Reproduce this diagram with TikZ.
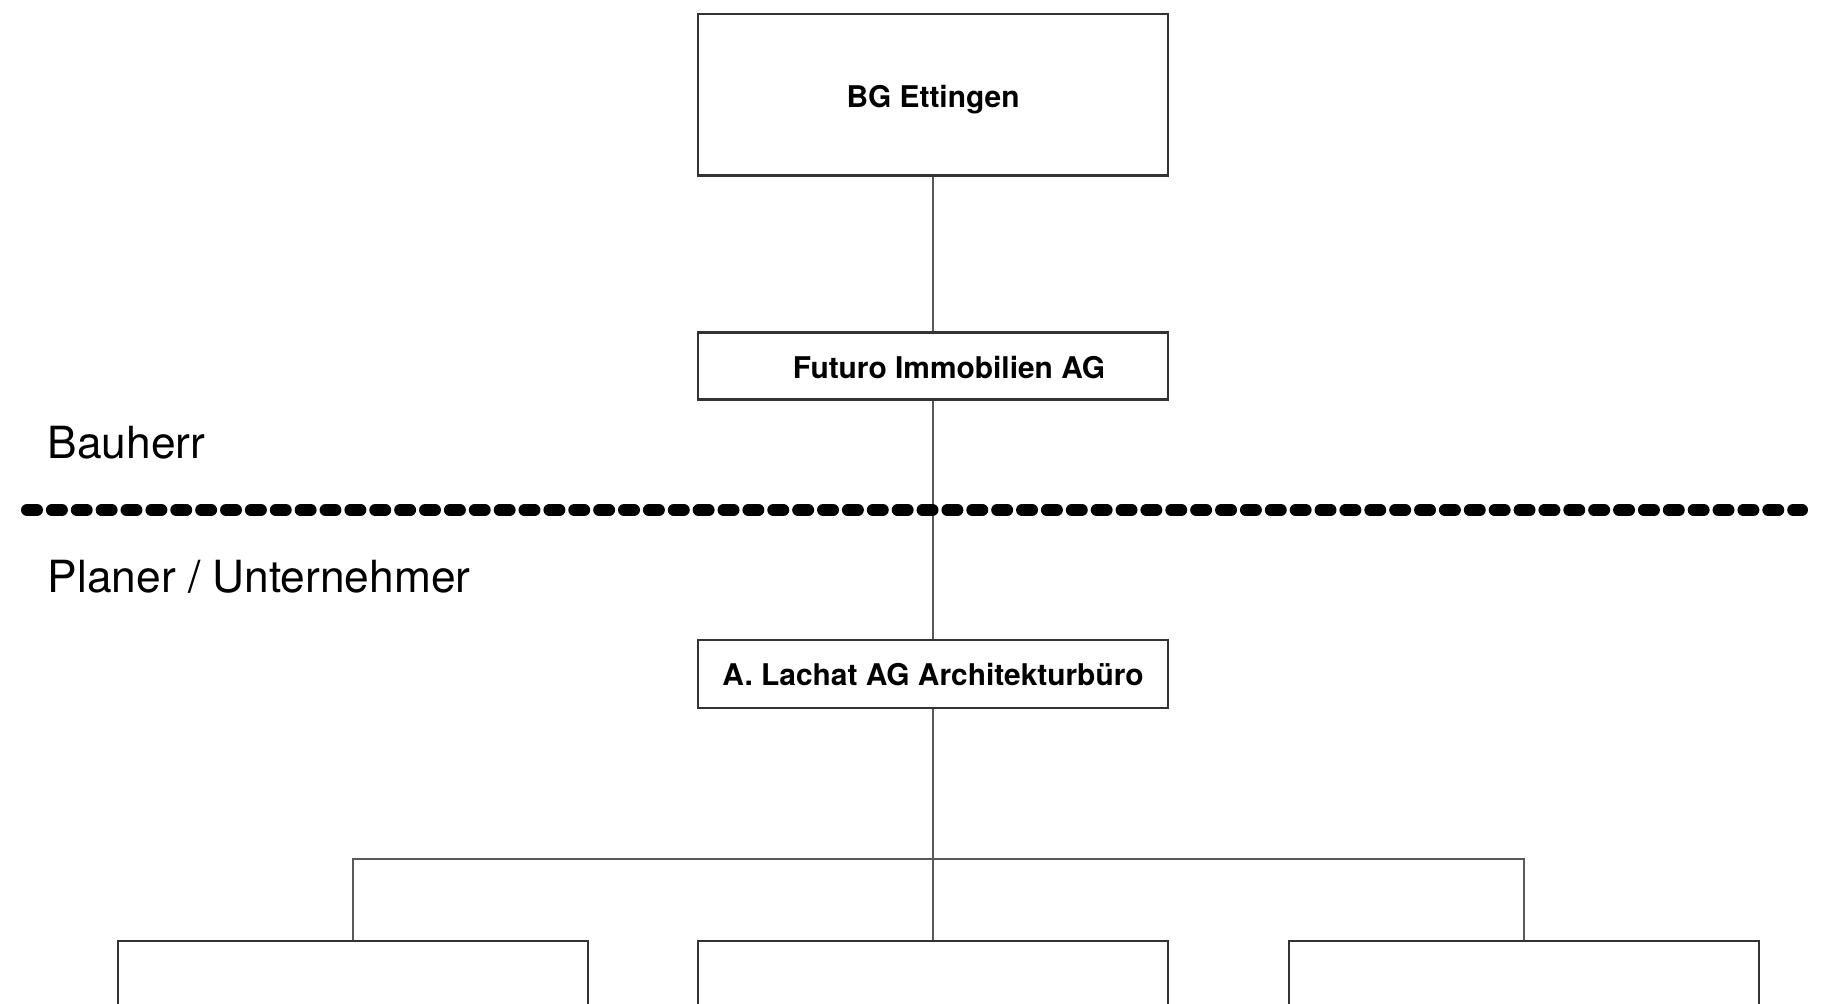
\documentclass[tikz,border=0pt]{standalone}
\usepackage{fontspec}
\setmainfont{TeX Gyre Heros}
\begin{document}
\begin{tikzpicture}[x=0.01cm, y=-0.01cm,
    box/.style={draw=black!80, line width=0.6pt, fill=white, minimum width=4.7cm,
        inner sep=0pt, text depth=0pt, font=\bfseries\fontsize{8.5}{10}\selectfont},
    zone/.style={inner sep=0pt, font=\fontsize{12.6}{14}\selectfont},
    link/.style={draw=black!65, line width=0.6pt}]
    \useasboundingbox (0,0) rectangle (1824,1004);
    \clip (0,0) rectangle (1824,1004);

    % Bauherr
    \node[box, minimum height=1.61cm] (bg) at (933,95) {\raisebox{-0.03cm}{BG Ettingen}};
    \node[box, minimum height=0.67cm] (futuro) at (933,366) {\hspace*{0.32cm}\raisebox{-0.03cm}{Futuro Immobilien AG}};

    % Planer / Unternehmer
    \node[box, minimum height=0.68cm] (lachat) at (933,674) {A. Lachat AG Architekturbüro};
    \foreach \x [count=\i] in {353,933,1524}
        \node[box, anchor=north, minimum height=2cm] (p\i) at (\x,940) {};

    % Zone labels
    \node[zone, anchor=base west] (bauherr) at (47,459) {Bauherr};
    \node[zone, anchor=base west] (planer) at (47,593) {Planer / Unternehmer};

    % Connectors
    \coordinate (branch) at (933,859);
    \draw[link] (bg) -- (futuro);
    \draw[link] (futuro) -- (lachat);
    \draw[link] (lachat) -- (p2);
    \draw[link] (p1.north) |- (branch) -| (p3.north);

    % Border line
    \draw[line width=3.4pt, line cap=round, dash pattern=on 0.1cm off 0.1486cm] (27,510) -- (1802,510);
\end{tikzpicture}
\end{document}
